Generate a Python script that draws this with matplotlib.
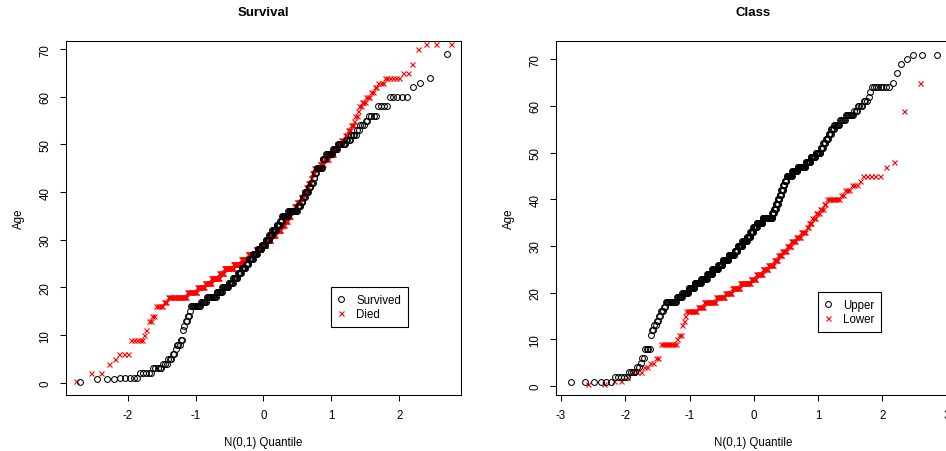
import matplotlib
matplotlib.use("Agg")
import matplotlib.pyplot as plt
import numpy as np
from statistics import NormalDist

plt.rcParams['font.family'] = ['Liberation Sans', 'DejaVu Sans']
plt.rcParams['axes.unicode_minus'] = False

# ---- data: ages and number of passengers at each age ----
survived_ages = [0.17, 0.8, 0.95, 2, 3, 4, 5, 6, 7, 8, 9, 11, 12, 13, 14, 15, 16, 17, 18, 19,
                 20, 21, 22, 23, 24, 25, 26, 27, 28, 29, 30, 31, 32, 33, 34, 35, 36, 37, 38, 39,
                 40, 41, 42, 43, 44, 45, 47, 48, 49, 50, 51, 52, 53, 54, 55, 56, 58, 60, 62, 63,
                 64, 69]
survived_counts = [1, 3, 5, 5, 5, 3, 3, 2, 1, 3, 2, 1, 1, 2, 2, 1, 10, 7, 12, 8,
                   9, 7, 7, 6, 7, 5, 7, 7, 7, 7, 6, 5, 7, 6, 3, 10, 14, 5, 3, 3,
                   5, 3, 3, 2, 2, 7, 4, 7, 5, 7, 4, 4, 2, 3, 2, 4, 4, 5, 1, 1,
                   1, 1]

died_ages = [0.42, 2, 4, 5, 6, 9, 10, 11, 13, 14, 16, 17, 18, 19, 20, 21, 22, 23, 24, 25,
             26, 27, 28, 29, 30, 31, 32, 33, 34, 35, 36, 37, 38, 39, 40, 41, 42, 43, 44, 45,
             46, 47, 48, 49, 50, 51, 52, 53, 54, 55, 56, 57, 58, 59, 60, 61, 62, 63, 64, 65,
             67, 70, 71]
died_counts = [1, 2, 1, 1, 3, 5, 1, 1, 2, 2, 5, 3, 18, 12, 10, 10, 13, 8, 17, 15,
               13, 16, 11, 10, 10, 10, 11, 7, 6, 6, 7, 5, 7, 5, 5, 3, 4, 2, 4, 8,
               6, 6, 7, 4, 4, 4, 3, 3, 3, 1, 2, 1, 2, 3, 3, 2, 2, 3, 6, 2,
               1, 1, 3]

upper_ages = [0.92, 2, 3, 4, 5, 6, 8, 11, 12, 13, 14, 15, 16, 17, 18, 19, 20, 21, 22, 23,
              24, 25, 26, 27, 28, 29, 30, 31, 32, 33, 34, 35, 36, 37, 38, 39, 40, 41, 42, 43,
              44, 45, 46, 47, 48, 49, 50, 51, 52, 53, 54, 55, 56, 57, 58, 59, 60, 61, 62, 63,
              64, 65, 67, 69, 70, 71]
upper_counts = [6, 5, 4, 2, 1, 2, 4, 1, 2, 2, 2, 2, 3, 2, 14, 8, 10, 11, 13, 12,
                12, 14, 11, 15, 16, 9, 13, 13, 9, 9, 10, 16, 27, 5, 5, 5, 5, 4, 5, 4,
                5, 13, 13, 17, 10, 9, 9, 4, 4, 4, 4, 4, 7, 6, 8, 3, 4, 3, 1, 1,
                8, 1, 1, 1, 1, 3]

lower_ages = [0.42, 1, 2, 3, 4, 5, 6, 9, 10, 11, 13, 14, 15, 16, 17, 18, 19, 20, 21, 22,
              23, 24, 25, 26, 27, 28, 29, 30, 31, 32, 33, 34, 35, 36, 37, 38, 39, 40, 41, 42,
              43, 44, 45, 47, 48, 59, 65]
lower_counts = [2, 2, 1, 3, 2, 2, 2, 9, 1, 2, 1, 1, 1, 9, 6, 12, 10, 8, 10, 13,
                7, 8, 7, 7, 5, 5, 5, 5, 5, 5, 5, 2, 3, 3, 3, 3, 2, 8, 2, 3,
                3, 1, 5, 1, 1, 1, 1]

panel_titles = ["Survival", "Class"]
legend_labels = [["Survived", "Died"], ["Upper", "Lower"]]
x_ticks = [[-2, -1, 0, 1, 2], [-3, -2, -1, 0, 1, 2, 3]]
y_ticks = [0, 10, 20, 30, 40, 50, 60, 70]


def qq(ages, counts):
    y = np.sort(np.repeat(np.asarray(ages, dtype=float), counts))
    n = len(y)
    nd = NormalDist()
    x = np.array([nd.inv_cdf(i / (n + 1)) for i in range(1, n + 1)])
    return x, y


W, H = 946, 452
fig = plt.figure(figsize=(W / 100, H / 100), dpi=100)

ax_w = 394.7
ax_top, ax_bot = 42.3, 396.0
ax1 = fig.add_axes([65.8 / W, 1 - ax_bot / H, ax_w / W, (ax_bot - ax_top) / H])
ax2 = fig.add_axes([555.8 / W, 1 - ax_bot / H, ax_w / W, (ax_bot - ax_top) / H])

groups = [[(survived_ages, survived_counts), (died_ages, died_counts)],
          [(upper_ages, upper_counts), (lower_ages, lower_counts)]]
xlims = [(-2.91, 2.90), (-3.08, 3.06)]
ylims = [(-2.58, 71.66), (-1.93, 73.86)]
leg_anchor = [(0.672, 0.3053), (0.664, 0.291)]

for k, ax in enumerate([ax1, ax2]):
    (a1, c1), (a2, c2) = groups[k]
    x1, y1 = qq(a1, c1)
    x2, y2 = qq(a2, c2)
    h1, = ax.plot(x1, y1, linestyle='none', marker='o', mfc='none', mec='black',
                  ms=4.2, mew=0.75, label=legend_labels[k][0], zorder=3)
    h2, = ax.plot(x2, y2, linestyle='none', marker='x', color='red',
                  ms=3.6, mew=0.8, label=legend_labels[k][1], zorder=2)
    ax.set_xlim(*xlims[k])
    ax.set_ylim(*ylims[k])
    ax.set_xticks(x_ticks[k])
    ax.set_yticks(y_ticks)
    ax.tick_params(direction='out', length=4.3, width=0.75, labelsize=8.3, color='black')
    ax.tick_params(axis='x', pad=6.0)
    ax.tick_params(axis='y', pad=6.0, labelrotation=90)
    for lab in ax.get_yticklabels():
        lab.set_va('center')
    for sp in ax.spines.values():
        sp.set_linewidth(0.75)
        sp.set_color('black')
    ax.set_title(panel_titles[k], fontsize=9.5, fontweight='bold', pad=18.6)
    ax.set_xlabel("N(0,1) Quantile", fontsize=8.3)
    ax.xaxis.label.set_va('center')
    ax.xaxis.set_label_coords(0.5, -(443 - ax_bot) / (ax_bot - ax_top))
    ax.set_ylabel("Age", fontsize=8.3)
    ax.yaxis.label.set_va('center')
    ax.yaxis.set_label_coords(-47.0 / ax_w, 0.5)
    leg = ax.legend(handles=[h1, h2], loc='upper left', bbox_to_anchor=leg_anchor[k],
                    frameon=True, fancybox=False, shadow=False, framealpha=1,
                    edgecolor='black', fontsize=8.3, borderpad=0.6, handlelength=0.5,
                    handletextpad=1.07, labelspacing=0.2, borderaxespad=0.0)
    leg.get_frame().set_linewidth(0.8)

fig.savefig("out.png", dpi=100)
